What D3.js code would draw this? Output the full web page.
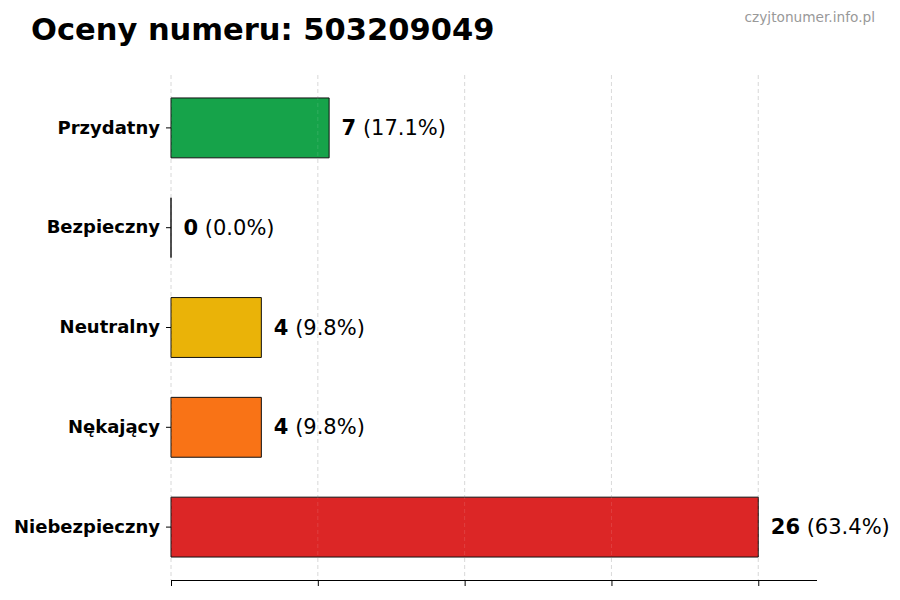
<!DOCTYPE html>
<html>
<head>
<meta charset="utf-8">
<script src="https://cdn.jsdelivr.net/npm/d3@7/dist/d3.min.js"></script>
<style>
  html, body { margin: 0; padding: 0; background: #fff; }
  svg { display: block; font-family: "DejaVu Sans", sans-serif; }
</style>
</head>
<body>
<svg id="chart" width="900" height="600"></svg>
<script>
const categories = ["Przydatny", "Bezpieczny", "Neutralny", "Nękający", "Niebezpieczny"];
const counts = [7, 0, 4, 4, 26];
const percents = ["17.1%", "0.0%", "9.8%", "9.8%", "63.4%"];
const colors = ["#16a34a", "#9ca3af", "#eab308", "#f97316", "#dc2626"];
const xTicks = [0, 6.5, 13, 19.5, 26];
const titleText = "Oceny numeru: 503209049";
const watermark = "czyjtonumer.info.pl";

(function () {
const svg = d3.select("#chart");
const mLeft = 171, mRight = 817, mTop = 75, mBottom = 580;
const maxV = d3.max(counts);

const x = d3.scaleLinear().domain([0, maxV * 1.1]).range([mLeft, mRight]);
const y = d3.scaleBand().domain(categories).range([mTop, mBottom]).paddingInner(0.4).paddingOuter(0.23);

// title & watermark
svg.append("text").attr("x", 31).attr("y", 40)
  .attr("font-size", 30.5).attr("font-weight", "bold").attr("fill", "#000")
  .text(titleText);
svg.append("text").attr("x", 875).attr("y", 22).attr("text-anchor", "end")
  .attr("font-size", 13.7).attr("fill", "#999").text(watermark);

// grid
svg.append("g").selectAll("line").data(xTicks).join("line")
  .attr("x1", d => x(d)).attr("x2", d => x(d))
  .attr("y1", mTop).attr("y2", mBottom)
  .attr("stroke", "#cccccc").attr("stroke-width", 0.8)
  .attr("stroke-dasharray", "4,3");

// bars (as paths so that a zero-width bar still shows its edge)
svg.append("g").selectAll("path").data(categories).join("path")
  .attr("d", (d, i) => {
    const x0 = x(0), w = x(counts[i]) - x(0), y0 = y(d), h = y.bandwidth();
    return `M${x0},${y0}h${w}v${h}h${-w}Z`;
  })
  .attr("fill", (d, i) => colors[i])
  .attr("stroke", "#111").attr("stroke-width", 1);

// faint grid overlay (visible through bars)
svg.append("g").selectAll("line").data(xTicks).join("line")
  .attr("x1", d => x(d)).attr("x2", d => x(d))
  .attr("y1", mTop).attr("y2", mBottom)
  .attr("stroke", "#ffffff").attr("stroke-opacity", 0.15).attr("stroke-width", 0.8)
  .attr("stroke-dasharray", "4,3");

// value labels
const lab = svg.append("g").selectAll("text").data(categories).join("text")
  .attr("x", (d, i) => x(counts[i]) + 12.5)
  .attr("y", d => y(d) + y.bandwidth() / 2 + 7)
  .attr("font-size", 21).attr("fill", "#000");
lab.append("tspan").attr("font-weight", "bold").text((d, i) => counts[i]);
lab.append("tspan").text((d, i) => " (" + percents[i] + ")");

// x axis
const xAxis = d3.axisBottom(x).tickValues(xTicks).tickSize(6).tickFormat("");
const gx = svg.append("g").attr("transform", `translate(0,${mBottom})`).call(xAxis);
gx.select(".domain").attr("stroke", "#000").attr("stroke-width", 1)
  .attr("d", `M${mLeft},0.5H${mRight}`);
gx.selectAll(".tick line").attr("stroke", "#000");

// y axis
const yAxis = d3.axisLeft(y).tickSize(5).tickPadding(6);
const gy = svg.append("g").attr("transform", `translate(${mLeft},0)`).call(yAxis);
gy.select(".domain").remove();
gy.selectAll(".tick line").attr("stroke", "#000");
gy.selectAll(".tick text").attr("font-size", 18).attr("font-weight", "bold")
  .attr("fill", "#000").attr("font-family", "DejaVu Sans");
})();
</script>
</body>
</html>
